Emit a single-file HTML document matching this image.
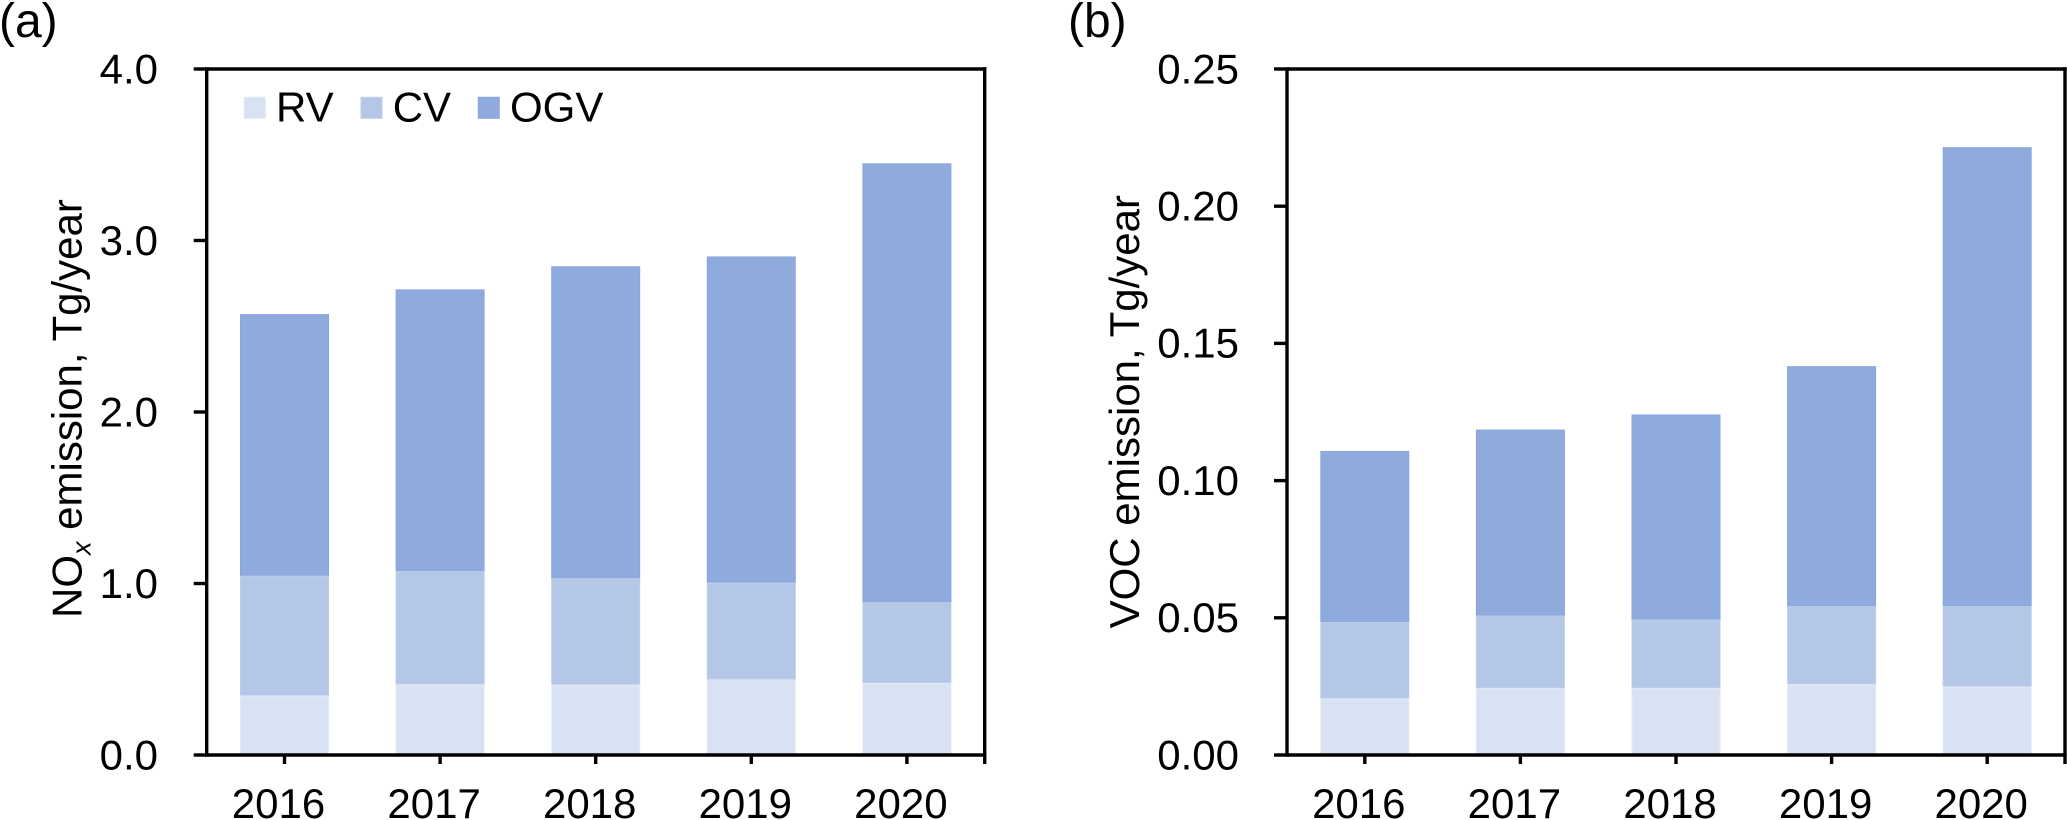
<!DOCTYPE html>
<html lang="en">
<head>
<meta charset="utf-8">
<title>NOx and VOC emissions by vessel type</title>
<style>
html,body{margin:0;padding:0;background:#fff;width:2067px;height:820px;overflow:hidden}
svg{display:block}
text{font-family:"Liberation Sans",Arial,sans-serif;fill:#000}
</style>
</head>
<body>
<svg id="chart" xmlns="http://www.w3.org/2000/svg" width="2067" height="820" viewBox="0 0 2067 820"></svg>
<script>
const years = ['2016', '2017', '2018', '2019', '2020'];
const seriesNames = ['RV', 'CV', 'OGV'];
const noxRV = [0.346, 0.412, 0.41, 0.44, 0.42];
const noxCV = [0.699, 0.661, 0.62, 0.565, 0.47];
const noxOGV = [1.526, 1.642, 1.82, 1.902, 2.56];
const vocRV = [0.0206, 0.0244, 0.0244, 0.0258, 0.0249];
const vocCV = [0.0279, 0.0264, 0.025, 0.0284, 0.0293];
const vocOGV = [0.0623, 0.0678, 0.0747, 0.0875, 0.1673];
const noxTicks = ['0.0', '1.0', '2.0', '3.0', '4.0'];
const vocTicks = ['0.00', '0.05', '0.10', '0.15', '0.20', '0.25'];

const svg = document.getElementById('chart');
const NS = 'http://www.w3.org/2000/svg';
const FILLS = ['#d9e2f3', '#b4c7e7', '#8faadc'];
const EDGES = ['#e2e9f6', '#bccde9', '#89a6db'];
const TOP = 69, BOTTOM = 755, SW = 3.4, FS = 42;

function node(parent, tag, name) {
  const el = document.createElementNS(NS, tag);
  
  
  parent.appendChild(el);
  return el;
}
function line(parent, name, x1, y1, x2, y2) {
  const l = node(parent, 'line', name);
  l.setAttribute('x1', x1);
  l.setAttribute('y1', y1);
  l.setAttribute('x2', x2);
  l.setAttribute('y2', y2);
  l.setAttribute('stroke', '#000');
  l.setAttribute('stroke-width', SW);
  return l;
}
function label(parent, name, x, y, str, anchor, size) {
  const t = node(parent, 'text', name);
  t.setAttribute('x', x);
  t.setAttribute('y', y);
  t.setAttribute('font-size', size || FS);
  t.setAttribute('text-anchor', anchor || 'start');
  t.textContent = str;
  return t;
}
function panel(id, left, right, yMax, ticks, stacks, tickRight) {
  const g = node(svg, 'g', id + '-panel');
  const yScale = v => BOTTOM - (v / yMax) * (BOTTOM - TOP);
  const band = (right - left) / years.length;
  const xCenter = i => left + band * (i + 0.5);
  const barW = 89;

  years.forEach((yr, i) => {
    let base = 0;
    stacks.forEach((vals, s) => {
      const y0 = yScale(base);
      const y1 = yScale(base + vals[i]);
      const r = node(g, 'rect', 'bar-' + seriesNames[s].toLowerCase() + '-' + yr);
      r.setAttribute('x', xCenter(i) - barW / 2 + 0.5);
      r.setAttribute('y', y1 + 0.5);
      r.setAttribute('width', barW - 1);
      r.setAttribute('height', Math.max(y0 - y1 - 1, 0));
      r.setAttribute('fill', FILLS[s]);
      r.setAttribute('stroke', EDGES[s]);
      r.setAttribute('stroke-width', 1);
      base += vals[i];
    });
  });

  line(g, 'y-axis-line', left, TOP - SW / 2, left, BOTTOM + SW / 2);
  line(g, 'right-axis-line', right, TOP - SW / 2, right, BOTTOM + 9);
  line(g, 'top-axis-line', left, TOP, right + SW / 2, TOP);
  line(g, 'x-axis-line', left, BOTTOM, right + SW / 2, BOTTOM);

  ticks.forEach(tk => {
    const y = yScale(parseFloat(tk));
    line(g, 'y-tick-' + tk, left - 13, y, left, y);
    label(g, 'y-tick-label-' + tk, tickRight, y + 14.3, tk, 'end');
  });
  years.forEach((yr, i) => {
    const x = xCenter(i);
    line(g, 'x-tick-' + yr, x, BOTTOM, x, BOTTOM + 9);
    label(g, 'x-tick-label-' + yr, x - 6, 818, yr, 'middle');
  });
}

panel('nox', 206.7, 984.7, 4, noxTicks, [noxRV, noxCV, noxOGV], 158);
panel('voc', 1287, 2065, 0.25, vocTicks, [vocRV, vocCV, vocOGV], 1239);

label(svg, 'panel-a-label', -1, 37, '(a)', 'start', 48);
label(svg, 'panel-b-label', 1068, 37, '(b)', 'start', 48);

const titleA = label(svg, 'y-axis-title-nox', 0, 0, 'NO', 'start');
titleA.setAttribute('transform', 'translate(81.5 618) rotate(-90)');
const subX = node(titleA, 'tspan', 'y-axis-title-subscript');
subX.setAttribute('font-size', 27);
subX.setAttribute('font-style', 'italic');
subX.setAttribute('dy', 9);
subX.textContent = 'x';
const restA = node(titleA, 'tspan', 'y-axis-title-unit');
restA.setAttribute('dy', -9);
restA.textContent = ' emission, Tg/year';

const titleB = label(svg, 'y-axis-title-voc', 0, 0, 'VOC emission, Tg/year', 'end');
titleB.setAttribute('transform', 'translate(1139 195) rotate(-90)');

const legendG = node(svg, 'g', 'legend');
[[244.3, 276], [361, 392.7], [478.3, 510]].forEach((slot, s) => {
  const sw = node(legendG, 'rect', 'legend-swatch-' + seriesNames[s].toLowerCase());
  sw.setAttribute('x', slot[0]);
  sw.setAttribute('y', 97.3);
  sw.setAttribute('width', 21);
  sw.setAttribute('height', 21);
  sw.setAttribute('fill', FILLS[s]);
  sw.setAttribute('stroke', EDGES[s]);
  sw.setAttribute('stroke-width', 1);
  label(legendG, 'legend-label-' + seriesNames[s].toLowerCase(), slot[1], 121.7, seriesNames[s]);
});
</script>
</body>
</html>
